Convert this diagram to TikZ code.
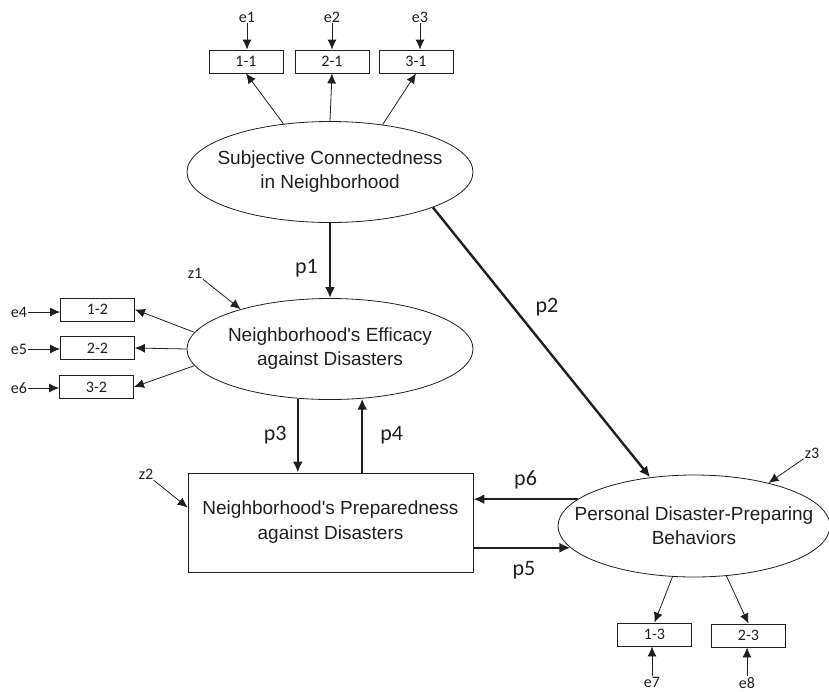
\documentclass[tikz,border=0pt]{standalone}
\usepackage{fontspec}
\setmainfont{Carlito}
\newfontfamily\arialf{Liberation Sans}
\usetikzlibrary{shapes.geometric,arrows.meta}

\tikzset{
  lat/.style={ellipse, draw, line width=0.8pt, inner xsep=-30pt, inner ysep=0pt,
    align=center, minimum width=286pt, minimum height=101pt,
    font=\arialf\fontsize{19}{24}\selectfont},
  obs/.style={draw, line width=0.8pt, inner sep=0pt, minimum width=74pt,
    minimum height=23pt, font=\fontsize{16}{16}\selectfont},
  err/.style={inner sep=1pt, font=\fontsize{16}{16}\selectfont},
  arr/.style={-{Latex[length=10pt,width=9pt]}, line width=0.8pt},
  parr/.style={-{Latex[length=11pt,width=10pt]}, line width=2.4pt},
  plab/.style={inner sep=1pt, font=\fontsize{22}{22}\selectfont}
}

\begin{document}
\begin{tikzpicture}[x=1pt, y=-1pt, color=black!88]
        \useasboundingbox (0,0) rectangle (829,691);

        % latent variables
        \node[lat] (sc) at (330,172) {Subjective Connectedness\\in Neighborhood};
        \node[lat] (ne) at (330,349) {Neighborhood's Efficacy\\against Disasters};
        \node[lat, minimum width=272pt, minimum height=102pt] (pe) at (694,526)
            {Personal Disaster-Preparing\\Behaviors};
        \node[draw, line width=0.8pt, minimum width=285pt, minimum height=99pt,
            align=center, font=\arialf\fontsize{19}{25}\selectfont] (pb) at (330.5,522.5)
            {Neighborhood's Preparedness\\against Disasters};

        % indicators
        \node[obs] (b11) at (246,61.5) {1-1};
        \node[obs] (b21) at (332,61.5) {2-1};
        \node[obs] (b31) at (416,61.5) {3-1};
        \node[obs] (b12) at (97.5,309.5) {1-2};
        \node[obs] (b22) at (97.5,348) {2-2};
        \node[obs] (b32) at (96.5,387) {3-2};
        \node[obs] (b13) at (654.5,634.5) {1-3};
        \node[obs] (b23) at (748.5,635.5) {2-3};

        % errors and disturbances
        \node[err] (e1) at (247,17) {e1};
        \node[err] (e2) at (332,17) {e2};
        \node[err] (e3) at (420,17) {e3};
        \node[err] (e4) at (19,312) {e4};
        \node[err] (e5) at (19,349) {e5};
        \node[err] (e6) at (19,388) {e6};
        \node[err] (e7) at (652,682) {e7};
        \node[err] (e8) at (747,683) {e8};
        \node[err] (z1) at (195,273) {z1};
        \node[err] (z2) at (146,474) {z2};
        \node[err] (z3) at (812,453) {z3};

        \draw[arr] (sc.134) -- (b11.south);
        \draw[arr] (sc.north) -- (b21.south);
        \draw[arr] (sc.42) -- (b31.south);
        \draw[arr] (ne.173) -- (b12.east);
        \draw[arr] (ne.west) -- (b22.east);
        \draw[arr] (ne.187) -- (b32.east);
        \draw[arr] (pe.247) -- (b13.north);
        \draw[arr] (pe.303) -- (b23.north);

        \foreach \e/\b in {e1/b11, e2/b21, e3/b31}
            \draw[arr] (\e.south) -- (\e.south |- \b.north);
        \foreach \e/\b in {e4/b12, e5/b22, e6/b32}
            \draw[arr] (\e.east) -- (\e.east -| \b.west);
        \foreach \e/\b in {e7/b13, e8/b23}
            \draw[arr] (\e.north) -- (\e.north |- \b.south);

        \draw[arr] (z1) -- (ne.156);
        \draw[arr] (z2) -- (pb.174.6);
        \draw[arr] (z3) -- (pe.30);

        % structural paths
        \draw[parr] (sc.south) -- (ne.north) node[plab, pos=.6, left=10pt] {p1};
        \draw[parr] (sc.-19.4) -- (pe.132) node[plab, pos=.37, right=20pt] {p2};
        \draw[parr] (ne.237) -- (ne.237 |- pb.north) node[plab, pos=.5, left=9pt] {p3};
        \draw[parr] (ne.303 |- pb.north) -- (ne.303) node[plab, pos=.5, right=16pt] {p4};
        \draw[parr] (pb.east |- pe.190.7) -- (pe.190.7) node[plab, pos=.52, below=11pt] {p5};
        \draw[parr] (pe.167.5) -- (pe.167.5 -| pb.east) node[plab, pos=.5, above=8pt] {p6};
    \end{tikzpicture}
\end{document}
